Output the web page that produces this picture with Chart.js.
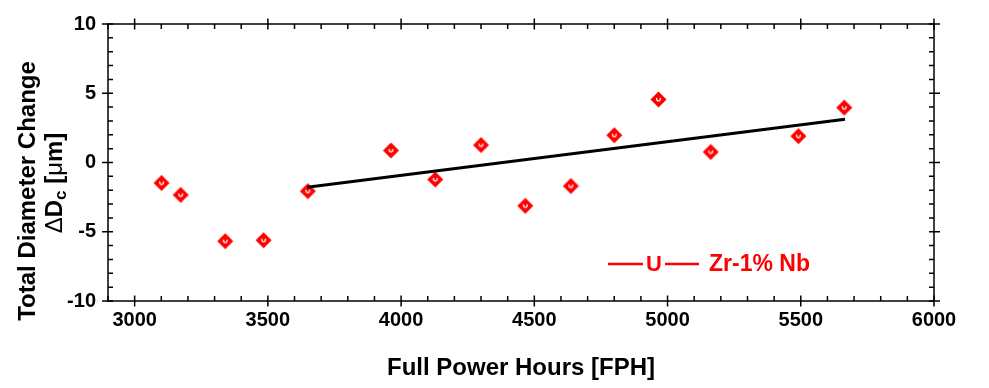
<!DOCTYPE html>
<html><head><meta charset="utf-8">
<script src="https://cdn.jsdelivr.net/npm/chart.js@4.4.1/dist/chart.umd.min.js"></script>
<style>html,body{margin:0;padding:0;background:#fff}#wrap{width:989px;height:388px;position:relative}</style>
</head><body><div id="wrap"><canvas id="c"></canvas></div>
<script>
// ---- data ----
const fph = [3101, 3173, 3340, 3484, 3650, 3962, 4128, 4300, 4466, 4637, 4800, 4966, 5162, 5491, 5663];
const dDc = [-1.48, -2.34, -5.68, -5.61, -2.07, 0.87, -1.23, 1.26, -3.13, -1.70, 1.97, 4.55, 0.76, 1.90, 3.96];
const fitX = [3647, 5666];
const fitY = [-1.78, 3.12];
const xTicks = [3000, 3500, 4000, 4500, 5000, 5500, 6000];
const yTicks = [-10, -5, 0, 5, 10];
const xMinorStep = 100;
const yMinorStep = 1;
const xRange = [2900, 6000];
const yRange = [-10, 10];
const xTitle = 'Full Power Hours [FPH]';
const yTitle1 = 'Total Diameter Change';
const seriesName = 'Zr-1% Nb';
const legendSymbol = 'U';

const RED = '#ff0000';
const FONT = '"Liberation Sans", Arial, Helvetica, sans-serif';

function makeMarker() {
  const s = 19, c = document.createElement('canvas');
  c.width = s; c.height = s;
  const g = c.getContext('2d'), h = s / 2, r = 8;
  g.fillStyle = RED;
  g.beginPath(); g.moveTo(h, h - r); g.lineTo(h + r, h); g.lineTo(h, h + r); g.lineTo(h - r, h); g.closePath(); g.fill();
  g.strokeStyle = '#fff'; g.lineWidth = 1.3; g.lineCap = 'round';
  g.beginPath(); g.moveTo(h - 1.8, h - 1.2); g.arc(h, h - 0.2, 1.8, Math.PI, 0, true); g.lineTo(h + 1.8, h - 1.2); g.stroke();
  return c;
}
const marker = makeMarker();

const deco = {
  id: 'deco',
  afterDraw(chart) {
    const ctx = chart.ctx, a = chart.chartArea, xs = chart.scales.x, ys = chart.scales.y;
    ctx.save();
    ctx.strokeStyle = '#000'; ctx.lineWidth = 1.5; ctx.lineCap = 'butt';
    ctx.strokeRect(a.left, a.top, a.right - a.left, a.bottom - a.top);
    ctx.beginPath();
    for (let v = Math.ceil(xRange[0] / xMinorStep) * xMinorStep; v <= xRange[1]; v += xMinorStep) {
      const p = xs.getPixelForValue(v);
      const major = xTicks.includes(v);
      if (major) {
        ctx.moveTo(p, a.bottom - 5.5); ctx.lineTo(p, a.bottom + 5.5);
        ctx.moveTo(p, a.top - 5.5); ctx.lineTo(p, a.top + 5.5);
      } else {
        ctx.moveTo(p, a.bottom - 5); ctx.lineTo(p, a.bottom);
        ctx.moveTo(p, a.top + 5); ctx.lineTo(p, a.top);
      }
    }
    for (let v = yRange[0]; v <= yRange[1]; v += yMinorStep) {
      const p = ys.getPixelForValue(v);
      const major = yTicks.includes(v);
      if (major) {
        ctx.moveTo(a.left - 6, p); ctx.lineTo(a.left + 5, p);
        ctx.moveTo(a.right - 5, p); ctx.lineTo(a.right + 6, p);
      } else {
        ctx.moveTo(a.left, p); ctx.lineTo(a.left + 5, p);
        ctx.moveTo(a.right, p); ctx.lineTo(a.right - 5, p);
      }
    }
    ctx.stroke();

    ctx.fillStyle = '#000';
    ctx.textAlign = 'center'; ctx.textBaseline = 'middle';
    ctx.font = 'bold 24px ' + FONT;
    ctx.fillText(xTitle, (a.left + a.right) / 2, 368);

    ctx.save();
    ctx.translate(28, 191); ctx.rotate(-Math.PI / 2);
    ctx.fillText(yTitle1, 0, 0);
    ctx.restore();

    ctx.save();
    ctx.translate(55, 183); ctx.rotate(-Math.PI / 2);
    const segs = [
      { t: '\u0394', f: '24px ' + FONT, dy: 0 },
      { t: 'D', f: 'bold 24px ' + FONT, dy: 0 },
      { t: 'c', f: 'bold 17px ' + FONT, dy: 6 },
      { t: ' [', f: 'bold 24px ' + FONT, dy: 0 },
      { t: '\u03bc', f: '24px ' + FONT, dy: 0 },
      { t: 'm]', f: 'bold 24px ' + FONT, dy: 0 }
    ];
    let tot = 0;
    segs.forEach(s => { ctx.font = s.f; s.w = ctx.measureText(s.t).width; tot += s.w; });
    let x = -tot / 2;
    ctx.textAlign = 'left';
    segs.forEach(s => { ctx.font = s.f; ctx.fillText(s.t, x, s.dy); x += s.w; });
    ctx.restore();

    const ly = 264;
    ctx.strokeStyle = RED; ctx.lineWidth = 2.5;
    ctx.beginPath();
    ctx.moveTo(608, ly); ctx.lineTo(643, ly);
    ctx.moveTo(665, ly); ctx.lineTo(699, ly);
    ctx.stroke();
    ctx.fillStyle = RED;
    ctx.font = 'bold 22px ' + FONT;
    ctx.textAlign = 'center';
    ctx.fillText(legendSymbol, 654, ly + 1);
    ctx.textAlign = 'left';
    ctx.font = 'bold 23px ' + FONT;
    ctx.fillText(seriesName, 709, ly + 1);
    ctx.restore();
  }
};

const tickFont = { family: FONT, size: 20, weight: 'bold' };

new Chart(document.getElementById('c'), {
  type: 'scatter',
  data: {
    datasets: [
      {
        label: 'fit',
        data: fitX.map((x, i) => ({ x, y: fitY[i] })),
        showLine: true,
        borderColor: '#000',
        borderWidth: 3,
        pointRadius: 0,
        order: 0
      },
      {
        label: seriesName,
        data: fph.map((x, i) => ({ x, y: dDc[i] })),
        pointStyle: marker,
        pointRadius: 9,
        showLine: false,
        order: 1
      }
    ]
  },
  options: {
    responsive: true,
    maintainAspectRatio: false,
    animation: false,
    layout: { padding: { top: 19, right: 55, left: 0, bottom: 0 } },
    plugins: { legend: { display: false }, tooltip: { enabled: false } },
    scales: {
      x: {
        type: 'linear', min: xRange[0], max: xRange[1],
        grid: { display: false, drawTicks: false },
        border: { display: false },
        afterBuildTicks: s => { s.ticks = xTicks.map(v => ({ value: v })); },
        afterFit: s => { s.height = 87; },
        ticks: { font: tickFont, color: '#000', padding: 7, maxRotation: 0, autoSkip: false, callback: v => String(v) }
      },
      y: {
        type: 'linear', min: yRange[0], max: yRange[1],
        grid: { display: false, drawTicks: false },
        border: { display: false },
        afterBuildTicks: s => { s.ticks = yTicks.map(v => ({ value: v })); },
        afterFit: s => { s.width = 108; },
        ticks: { font: tickFont, color: '#000', padding: 12, callback: v => String(v) }
      }
    }
  },
  plugins: [deco]
});
</script>
</body></html>
